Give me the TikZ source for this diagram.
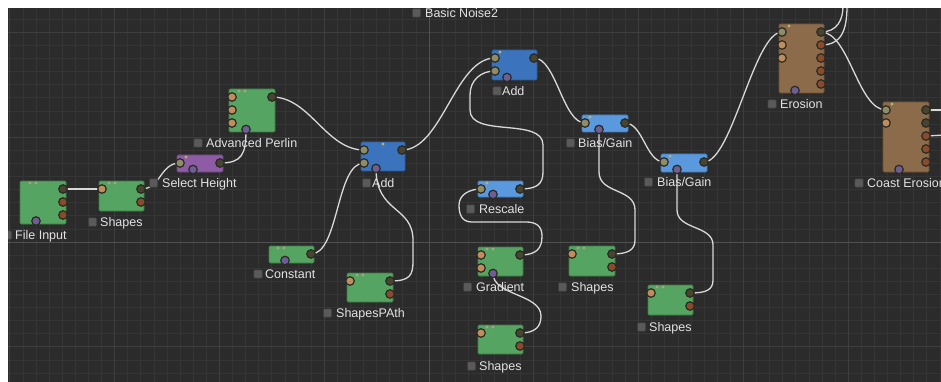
\documentclass[tikz,border=0pt]{standalone}
\usepackage{fontspec}
\setmainfont{Liberation Sans}
\usetikzlibrary{calc}
\pgfdeclarelayer{back}
\pgfdeclarelayer{wires}
\pgfsetlayers{back,wires,main}
\definecolor{bgdark}{HTML}{2B2B2B}
\definecolor{gridfine}{HTML}{353535}
\definecolor{gridmaj}{HTML}{3E3E3E}
\definecolor{gridaxis}{HTML}{505050}
\definecolor{ngreen}{HTML}{55A461}
\definecolor{ngreenD}{HTML}{3E7C47}
\definecolor{nblue}{HTML}{3B74BD}
\definecolor{nblueD}{HTML}{2C5A95}
\definecolor{nlblue}{HTML}{5A99DE}
\definecolor{nlblueD}{HTML}{4479B5}
\definecolor{npurple}{HTML}{8D5CA4}
\definecolor{npurpleD}{HTML}{6C4580}
\definecolor{nbrown}{HTML}{8C6B4B}
\definecolor{nbrownD}{HTML}{6B5038}
\definecolor{pdarkc}{HTML}{47452F}
\definecolor{ptanc}{HTML}{C08E5E}
\definecolor{pbrownc}{HTML}{8A4B2C}
\definecolor{polivec}{HTML}{8F8D66}
\definecolor{pbotc}{HTML}{6E5E93}
\definecolor{portring}{HTML}{2A2A24}
\definecolor{gdotc}{HTML}{A0A58C}
\definecolor{ydotc}{HTML}{B8B46E}
\definecolor{wirec}{HTML}{D8D8D8}
\definecolor{sqc}{HTML}{5A5A5A}
\definecolor{sqd}{HTML}{383838}
\definecolor{txtc}{HTML}{E2E2E2}
\tikzset{
  nodebox/.style={rectangle, inner sep=0pt, rounded corners=1.2pt, line width=0.6pt},
  greenbox/.style={nodebox, fill=ngreen, draw=ngreenD},
  bluebox/.style={nodebox, fill=nblue, draw=nblueD},
  lbluebox/.style={nodebox, fill=nlblue, draw=nlblueD},
  purplebox/.style={nodebox, fill=npurple, draw=npurpleD},
  brownbox/.style={nodebox, fill=nbrown, draw=nbrownD},
  port/.style={circle, inner sep=0pt, minimum size=8.5pt, line width=1.2pt, draw=portring},
  pdark/.style={port, fill=pdarkc},
  ptan/.style={port, fill=ptanc},
  pbrown/.style={port, fill=pbrownc},
  polive/.style={port, fill=polivec},
  pbot/.style={port, fill=pbotc, minimum size=8.5pt},
  gdot/.style={circle, inner sep=0pt, minimum size=3.4pt, fill=gdotc},
  ydot/.style={circle, inner sep=0pt, minimum size=3.4pt, fill=ydotc},
  wire/.style={draw=wirec, line width=1.3pt},
  labsq/.style={rectangle, rounded corners=1pt, minimum size=8.5pt, inner sep=0pt, fill=sqc, draw=sqd, line width=0.6pt},
  labtxt/.style={anchor=base west, inner sep=0pt, text=txtc, font=\fontsize{12.5}{14}\selectfont},
  finegrid/.style={draw=gridfine, line width=0.8pt},
  majgrid/.style={draw=gridmaj, line width=1pt},
  axisgrid/.style={draw=gridaxis, line width=1pt}
}
\begin{document}
\begin{tikzpicture}[x=1pt,y=-1pt]
\useasboundingbox (0,0) rectangle (941,382);
% ---------- boxes ----------
\node[greenbox,minimum width=46pt,minimum height=43pt] (fi) at (43,202.5) {};
\node[greenbox,minimum width=45pt,minimum height=30pt] (sh1) at (121.5,196) {};
\node[purplebox,minimum width=46pt,minimum height=17pt] (sel) at (200,163.5) {};
\node[greenbox,minimum width=46pt,minimum height=43pt] (ap) at (252,110.5) {};
\node[bluebox,minimum width=44pt,minimum height=29pt] (add1) at (383,156.5) {};
\node[greenbox,minimum width=45pt,minimum height=17pt] (con) at (291.5,254.5) {};
\node[greenbox,minimum width=46pt,minimum height=29pt] (sp) at (370,287.5) {};
\node[bluebox,minimum width=45pt,minimum height=30pt] (add2) at (514.5,65) {};
\node[lbluebox,minimum width=45pt,minimum height=16pt] (res) at (500.5,189) {};
\node[greenbox,minimum width=45pt,minimum height=29pt] (grad) at (500.5,261.5) {};
\node[greenbox,minimum width=45pt,minimum height=29pt] (sh2) at (500.5,339.5) {};
\node[lbluebox,minimum width=46pt,minimum height=17pt] (bg1) at (605,123.5) {};
\node[lbluebox,minimum width=46pt,minimum height=18pt] (bg2) at (684,163) {};
\node[greenbox,minimum width=46pt,minimum height=30pt] (sh3) at (592,261) {};
\node[greenbox,minimum width=45pt,minimum height=30pt] (sh4) at (670.5,300) {};
\node[brownbox,minimum width=45pt,minimum height=69pt] (er) at (801.5,58.5) {};
\node[brownbox,minimum width=46pt,minimum height=70pt] (ce) at (906,137) {};
% ---------- ports ----------
\node[pdark] (fi-o1) at (63,189) {};
\node[pbrown] (fi-o2) at (63,202) {};
\node[pbrown] (fi-o3) at (63,215) {};
\node[pbot] (fi-b) at (36,221) {};
\node[gdot] (fi-d1) at (30,183) {};
\node[gdot] (fi-d2) at (36,183) {};
\node[ptan] (sh1-i1) at (102,189) {};
\node[pdark] (sh1-o1) at (141,189) {};
\node[pbrown] (sh1-o2) at (141,202) {};
\node[gdot] (sh1-d1) at (109,183) {};
\node[gdot] (sh1-d2) at (115,183) {};
\node[polive] (sel-i1) at (180,163) {};
\node[pdark] (sel-o1) at (220,163) {};
\node[pbot] (sel-b) at (193,169.5) {};
\node[ydot] (sel-d1) at (186,157) {};
\node[ptan] (ap-i1) at (232,97) {};
\node[ptan] (ap-i2) at (232,110) {};
\node[ptan] (ap-i3) at (232,123) {};
\node[pdark] (ap-o1) at (272,97) {};
\node[pbot] (ap-b) at (246,129.5) {};
\node[gdot] (ap-d1) at (239,91) {};
\node[gdot] (ap-d2) at (245,91) {};
\node[polive] (add1-i1) at (364,150) {};
\node[polive] (add1-i2) at (364,163) {};
\node[pdark] (add1-o1) at (402,150) {};
\node[pbot] (add1-b) at (376,168.5) {};
\node[ydot] (add1-d1) at (383,144) {};
\node[pdark] (con-o1) at (311,254) {};
\node[pbot] (con-b) at (285,260.5) {};
\node[gdot] (con-d1) at (278,248) {};
\node[gdot] (con-d2) at (284,248) {};
\node[ptan] (sp-i1) at (350,281) {};
\node[pdark] (sp-o1) at (390,281) {};
\node[pbrown] (sp-o2) at (390,294) {};
\node[gdot] (sp-d1) at (357,275) {};
\node[gdot] (sp-d2) at (363,275) {};
\node[polive] (add2-i1) at (495,58) {};
\node[polive] (add2-i2) at (495,71) {};
\node[pdark] (add2-o1) at (534,58) {};
\node[pbot] (add2-b) at (507,77.5) {};
\node[ydot] (add2-d1) at (500,52) {};
\node[polive] (res-i1) at (481,189) {};
\node[pdark] (res-o1) at (520,189) {};
\node[pbot] (res-b) at (493,194.5) {};
\node[ydot] (res-d1) at (487,183) {};
\node[ptan] (grad-i1) at (481,255) {};
\node[ptan] (grad-i2) at (481,268) {};
\node[pdark] (grad-o1) at (520,255) {};
\node[pbot] (grad-b) at (493,273.5) {};
\node[gdot] (grad-d1) at (487,249) {};
\node[gdot] (grad-d2) at (493,249) {};
\node[ptan] (sh2-i1) at (481,333) {};
\node[pdark] (sh2-o1) at (520,333) {};
\node[pbrown] (sh2-o2) at (520,346) {};
\node[gdot] (sh2-d1) at (487,327) {};
\node[gdot] (sh2-d2) at (493,327) {};
\node[polive] (bg1-i1) at (585,123) {};
\node[pdark] (bg1-o1) at (625,123) {};
\node[pbot] (bg1-b) at (599,129.5) {};
\node[ydot] (bg1-d1) at (590,117) {};
\node[polive] (bg2-i1) at (664,162) {};
\node[pdark] (bg2-o1) at (704,162) {};
\node[pbot] (bg2-b) at (677,169.5) {};
\node[ydot] (bg2-d1) at (670,156) {};
\node[ptan] (sh3-i1) at (572,254) {};
\node[pdark] (sh3-o1) at (612,254) {};
\node[pbrown] (sh3-o2) at (612,267) {};
\node[gdot] (sh3-d1) at (578,248) {};
\node[gdot] (sh3-d2) at (584,248) {};
\node[ptan] (sh4-i1) at (651,293) {};
\node[pdark] (sh4-o1) at (690,293) {};
\node[pbrown] (sh4-o2) at (690,306) {};
\node[gdot] (sh4-d1) at (657,287) {};
\node[gdot] (sh4-d2) at (663,287) {};
\node[polive] (er-i1) at (782,32) {};
\node[ptan] (er-i2) at (782,45) {};
\node[ptan] (er-i3) at (782,58) {};
\node[pdark] (er-o1) at (821,32) {};
\node[pbrown] (er-o2) at (821,45) {};
\node[pbrown] (er-o3) at (821,58) {};
\node[pbrown] (er-o4) at (821,71) {};
\node[pbrown] (er-o5) at (821,84) {};
\node[pbot] (er-b) at (795,90.5) {};
\node[ydot] (er-d1) at (789,26) {};
\node[polive] (ce-i1) at (886,110) {};
\node[ptan] (ce-i2) at (886,123) {};
\node[pdark] (ce-o1) at (926,110) {};
\node[pdark] (ce-o2) at (926,123) {};
\node[pbrown] (ce-o3) at (926,136) {};
\node[pbrown] (ce-o4) at (926,149) {};
\node[pbrown] (ce-o5) at (926,162) {};
\node[pbot] (ce-b) at (899,169.5) {};
\node[ydot] (ce-d1) at (892,104) {};
\coordinate (top1) at (843,6);
\coordinate (top2) at (847,6);
\coordinate (edge1) at (945,110);
\coordinate (edge3) at (945,135);
% ---------- labels ----------
\node[labsq] (fi-s) at (7.5,235) {};
\node[labtxt] (fi-t) at (15,239.5) {File Input};
\node[labsq] (sh1-s) at (92.5,222) {};
\node[labtxt] (sh1-t) at (100,226.5) {Shapes};
\node[labsq] (sel-s) at (153.5,183) {};
\node[labtxt] (sel-t) at (162,187.5) {Select Height};
\node[labsq] (ap-s) at (198,143) {};
\node[labtxt] (ap-t) at (206,147.5) {Advanced Perlin};
\node[labsq] (add1-s) at (366.5,183) {};
\node[labtxt] (add1-t) at (372,187.5) {Add};
\node[labsq] (con-s) at (258,274) {};
\node[labtxt] (con-t) at (265,278.5) {Constant};
\node[labsq] (sp-s) at (327.5,313) {};
\node[labtxt] (sp-t) at (336,317.5) {ShapesPAth};
\node[labsq] (add2-s) at (497,91) {};
\node[labtxt] (add2-t) at (502,95.5) {Add};
\node[labsq] (bn-s) at (416.5,13) {};
\node[labtxt] (bn-t) at (425,17.5) {Basic Noise2};
\node[labsq] (res-s) at (470.5,209) {};
\node[labtxt] (res-t) at (479,213.5) {Rescale};
\node[labsq] (grad-s) at (467.5,287) {};
\node[labtxt] (grad-t) at (476,291.5) {Gradient};
\node[labsq] (sh2-s) at (471.5,366) {};
\node[labtxt] (sh2-t) at (479,370.5) {Shapes};
\node[labsq] (bg1-s) at (570.5,143) {};
\node[labtxt] (bg1-t) at (578,147.5) {Bias/Gain};
\node[labsq] (bg2-s) at (648.5,182) {};
\node[labtxt] (bg2-t) at (657,186.5) {Bias/Gain};
\node[labsq] (sh3-s) at (562.5,287) {};
\node[labtxt] (sh3-t) at (571,291.5) {Shapes};
\node[labsq] (sh4-s) at (641.5,327) {};
\node[labtxt] (sh4-t) at (649,331.5) {Shapes};
\node[labsq] (er-s) at (772,104) {};
\node[labtxt] (er-t) at (780,108.5) {Erosion};
\node[labsq] (ce-s) at (859,183) {};
\node[labtxt] (ce-t) at (867,187.5) {Coast Erosion};
% ---------- wires ----------
\begin{pgfonlayer}{wires}
\draw[wire] (fi-o1.center) -- (sh1-i1.center);
\draw[wire] (sh1-o1.center) .. controls +(20,0) and +(-20,0) .. (sel-i1.center);
\draw[wire] (sel-o1.center) .. controls +(22,0) and +(0,25) .. (ap-b.center);
\draw[wire] (ap-o1.center) .. controls +(38,0) and +(-38,0) .. (add1-i1.center);
\draw[wire] (con-o1.center) .. controls +(28,0) and +(-28,0) .. (add1-i2.center);
\draw[wire] (add1-b.center) .. controls +(0,45) and +(0,-35) .. ++(37,72) -- ++(0,20)
   .. controls +(0,15) and +(20,0) .. (sp-o1.center);
\draw[wire] (add1-o1.center) .. controls +(40,0) and +(-40,0) .. (add2-i1.center);
\draw[wire] (res-o1.center) .. controls +(17,0) and +(0,12) .. ++(23,-17) -- ++(0,-27)
   .. controls +(0,-28) and +(0,28) .. ++(-73,-35) -- ++(0,-15)
   .. controls +(0,-15) and +(-14,0) .. (add2-i2.center);
\draw[wire] (grad-o1.center) .. controls +(17,0) and +(0,12) .. ++(22,-19)
   .. controls +(0,-10) and +(10,0) .. ++(-16,-14) -- ++(-54,0)
   .. controls +(-10,0) and +(0,10) .. ++(-13,-17)
   .. controls +(0,-10) and +(-12,0) .. (res-i1.center);
\draw[wire] (sh2-o1.center) .. controls +(16,0) and +(0,10) .. ++(21,-17)
   .. controls +(0,-22) and +(0,22) .. (grad-b.center);
\draw[wire] (add2-o1.center) .. controls +(22,0) and +(-22,0) .. (bg1-i1.center);
\draw[wire] (bg1-o1.center) .. controls +(18,0) and +(-18,0) .. (bg2-i1.center);
\draw[wire] (sh3-o1.center) .. controls +(16,0) and +(0,10) .. ++(23,-14) -- ++(0,-30)
   .. controls +(0,-22) and +(0,22) .. ++(-36,-38) -- (bg1-b.center);
\draw[wire] (sh4-o1.center) .. controls +(16,0) and +(0,10) .. ++(23,-13) -- ++(0,-35)
   .. controls +(0,-20) and +(0,20) .. ++(-36,-35) -- (bg2-b.center);
\draw[wire] (bg2-o1.center) .. controls +(28,0) and +(-28,0) .. (er-i1.center);
\draw[wire] (er-o1.center) .. controls +(28,0) and +(-28,0) .. (ce-i1.center);
\draw[wire] (er-o1.center) .. controls +(16,0) and +(0,14) .. (top1);
\draw[wire] (er-o2.center) .. controls +(20,0) and +(0,25) .. (top2);
\draw[wire] (ce-o1.center) -- (edge1);
\draw[wire] (ce-o3.center) -- (edge3);
\end{pgfonlayer}
% ---------- background ----------
\begin{pgfonlayer}{back}
\fill[bgdark] (8,8) rectangle (941,382);
\foreach \k in {-32,...,39} {
  \pgfmathsetmacro\xx{429+13.1*\k}
  \draw[finegrid] (\xx,8) -- (\xx,382);
}
\foreach \k in {-17,...,10} {
  \pgfmathsetmacro\yy{242+13.1*\k}
  \draw[finegrid] (8,\yy) -- (941,\yy);
}
\foreach \k in {-4,...,4} {
  \pgfmathsetmacro\xx{429+104.8*\k}
  \draw[majgrid] (\xx,8) -- (\xx,382);
}
\foreach \k in {-2,...,1} {
  \pgfmathsetmacro\yy{242+104.8*\k}
  \draw[majgrid] (8,\yy) -- (941,\yy);
}
\draw[axisgrid] (429,8) -- (429,382);
\draw[axisgrid] (8,242) -- (941,242);
\end{pgfonlayer}
% ---------- white margin ----------
\fill[white] (0,0) rectangle (941,8);
\fill[white] (0,0) rectangle (8,382);
\end{tikzpicture}
\end{document}
